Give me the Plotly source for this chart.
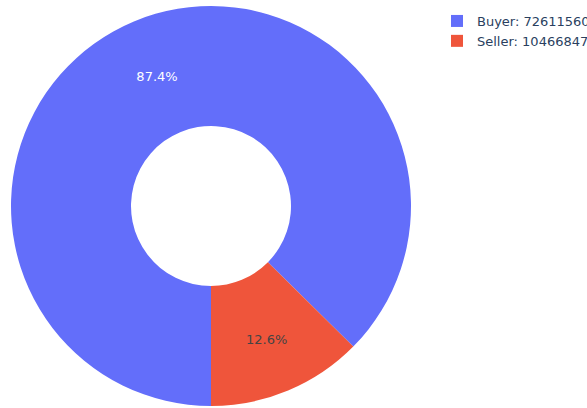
import plotly.graph_objects as go

labels = ["Buyer: 72611560", "Seller: 10466847"]
values = [72611560, 10466847]

fig = go.Figure(go.Pie(
    labels=labels,
    values=values,
    hole=0.4,
    textinfo="percent",
    direction="clockwise",
    rotation=180,
    sort=False,
))
fig.update_layout(
    width=587,
    height=408,
    font=dict(family="DejaVu Sans", size=13),
    margin=dict(l=11, r=176, t=6, b=2, autoexpand=False),
    legend=dict(x=1.065, y=1),
)
fig.write_html("out.html", config={"displayModeBar": False},
               post_script="document.body.style.margin='0';")
